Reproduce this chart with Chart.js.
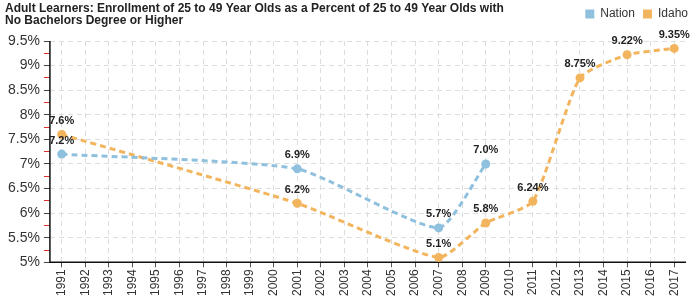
<!DOCTYPE html>
<html>
<head>
<meta charset="utf-8">
<script src="https://cdn.jsdelivr.net/npm/chart.js@4/dist/chart.umd.min.js"></script>
<style>
html,body{margin:0;padding:0;background:#fff;}
#wrap{width:700px;height:300px;position:relative;}
</style>
</head>
<body>
<div id="wrap"><canvas id="c" width="700" height="300"></canvas></div>
<script>
const titleLines = ["Adult Learners: Enrollment of 25 to 49 Year Olds as a Percent of 25 to 49 Year Olds with", "No Bachelors Degree or Higher"];
const years = ["1991","1992","1993","1994","1995","1996","1997","1998","1999","2000","2001","2002","2003","2004","2005","2006","2007","2008","2009","2010","2011","2012","2013","2014","2015","2016","2017"];
const nation = [7.2,null,null,null,null,null,null,null,null,null,6.9,null,null,null,null,null,5.7,null,7.0,null,null,null,null,null,null,null,null];
const idaho = [7.6,null,null,null,null,null,null,null,null,null,6.2,null,null,null,null,null,5.1,null,5.8,null,6.24,null,8.75,null,9.22,null,9.35];
const seriesNames = ["Nation","Idaho"];
const seriesColors = ["#8fc0de","#f2b45c"];

const titlePlugin = {
  id:'customTitle',
  beforeInit(chart){
    const lg = chart.legend;
    const origFit = lg.fit;
    lg.fit = function(){ origFit.call(this); this.height += 11; };
    const origDraw = lg.draw;
    lg.draw = function(){
      const ctx = this.ctx;
      ctx.save(); ctx.translate(10, 0); origDraw.call(this); ctx.restore();
    };
  },
  afterDraw(chart){
    const ctx = chart.ctx;
    ctx.save();
    ctx.font = 'bold 12px "Liberation Sans", Arial, sans-serif';
    ctx.fillStyle = '#222';
    ctx.textAlign = 'left';
    ctx.textBaseline = 'top';
    titleLines.forEach((t,i)=>ctx.fillText(t, 5, 3 + i*12));
    ctx.restore();
  }
};

const axisPlugin = {
  id:'solidAxes',
  beforeDatasetsDraw(chart){
    const {ctx, chartArea:a} = chart;
    ctx.save();
    ctx.setLineDash([]);
    ctx.strokeStyle = '#111';
    ctx.lineWidth = 1.5;
    ctx.beginPath();
    ctx.moveTo(a.left, a.top);
    ctx.lineTo(a.left, a.bottom);
    ctx.lineTo(a.right, a.bottom);
    ctx.stroke();
    ctx.restore();
  }
};

const labelPlugin = {
  id:'pointLabels',
  afterDatasetsDraw(chart){
    const ctx = chart.ctx;
    ctx.save();
    ctx.font = 'bold 11px "Liberation Sans", Arial, sans-serif';
    ctx.fillStyle = '#222';
    ctx.textAlign = 'center';
    ctx.textBaseline = 'bottom';
    chart.data.datasets.forEach((ds, di)=>{
      const meta = chart.getDatasetMeta(di);
      meta.data.forEach((pt, i)=>{
        const v = ds.data[i];
        if (v === null || v === undefined) return;
        const dec = Math.abs(Math.round(v*10) - v*10) < 1e-6 ? 1 : 2;
        ctx.fillText(v.toFixed(dec) + '%', pt.x, pt.y - 8);
      });
    });
    ctx.restore();
  }
};

const isMajor = v => Math.abs(v*2 - Math.round(v*2)) < 1e-6;

new Chart(document.getElementById('c'), {
  type:'line',
  data:{
    labels: years,
    datasets: seriesNames.map((n, i)=>({
      label:n,
      data: i===0 ? nation : idaho,
      borderColor: seriesColors[i],
      backgroundColor: seriesColors[i],
      pointBackgroundColor: seriesColors[i],
      pointBorderColor: seriesColors[i],
      pointBorderWidth: 0,
      pointRadius: 4.5,
      borderWidth: 3,
      borderDash: [6,4],
      spanGaps: true,
      tension: 0.18,
      fill:false
    }))
  },
  options:{
    responsive:false,
    animation:false,
    devicePixelRatio:1,
    layout:{padding:{left:4,right:14,top:0,bottom:2}},
    plugins:{
      title:{display:false},
      tooltip:{enabled:false},
      legend:{
        display:true,
        position:'top',
        align:'end',
        labels:{
          boxWidth:9, boxHeight:9,
          padding:8,
          color:'#333',
          font:{size:12, family:'"Liberation Sans", Arial, sans-serif'},
          generateLabels(chart){
            const items = Chart.defaults.plugins.legend.labels.generateLabels(chart);
            items.forEach(it=>{ it.lineDash = []; it.lineWidth = 0; it.strokeStyle = it.fillStyle; });
            return items;
          }
        }
      }
    },
    scales:{
      x:{
        offset:true,
        grid:{display:true, color:'#dddddd', lineWidth:1, tickLength:5, tickColor:'#555', offset:false},
        border:{display:false, dash:[5,4]},
        ticks:{
          autoSkip:false, maxRotation:90, minRotation:90,
          color:'#333', padding:2,
          font:{size:12, family:'"Liberation Sans", Arial, sans-serif'}
        }
      },
      y:{
        min:5, max:9.5,
        grid:{
          color: ctx => isMajor(ctx.tick.value) ? '#dddddd' : 'rgba(0,0,0,0)',
          tickColor: ctx => isMajor(ctx.tick.value) ? '#444' : '#e03030',
          tickLength:6, lineWidth:1
        },
        border:{display:false, dash:[5,4]},
        ticks:{
          stepSize:0.25, autoSkip:false,
          color:'#333', padding:4,
          font:{size:14, family:'"Liberation Sans", Arial, sans-serif'},
          callback: v => isMajor(v) ? (Math.round(v*10)/10) + '%' : ''
        }
      }
    }
  },
  plugins:[titlePlugin, axisPlugin, labelPlugin]
});
</script>
</body>
</html>
